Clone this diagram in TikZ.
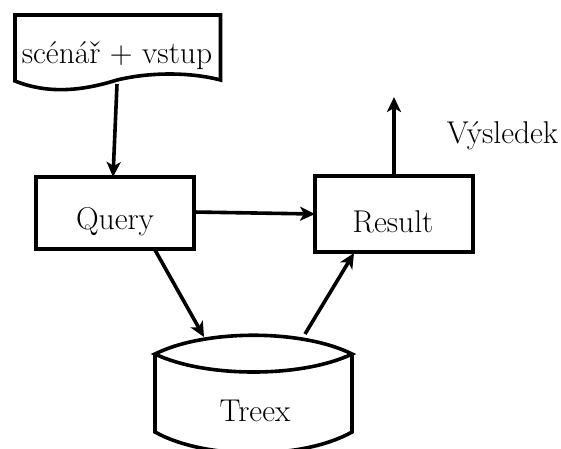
\documentclass[tikz,border=0pt]{standalone}
\usetikzlibrary{arrows.meta}
\begin{document}
\begin{tikzpicture}[x=1pt,y=-1pt,
  line width=3.6pt,
  every node/.style={font=\fontsize{31.5}{36}\selectfont},
  lbl/.style={anchor=base, inner sep=0pt},
  box/.style={draw, rectangle, line width=3.6pt, inner sep=0pt},
  conn/.style={-{Stealth[length=15pt,width=14pt,inset=4pt]}, line width=3.6pt}]
\useasboundingbox (0,0) rectangle (561,448);
% document shape
\draw (15,81) -- (15,15) -- (220.5,15) -- (220.5,80)
  .. controls (190,72) and (150,72) .. (117,80)
  .. controls (85,90) and (50,95) .. (15,81) -- cycle;
\node[lbl] (doc) at (117,63) {scénář + vstup};
% boxes
\node[box, minimum width=158pt, minimum height=72pt] (query) at (115,213) {};
\node[lbl] (querytext) at (115,229) {Query};
\node[box, minimum width=158pt, minimum height=76pt] (result) at (394,214) {};
\node[lbl] (resulttext) at (393,232) {Result};
% cylinder
\draw (155,354) .. controls (205,329) and (302,329) .. (352,354)
  .. controls (302,378) and (205,378) .. (155,354) -- cycle;
\draw (155,354) -- (155,432) .. controls (205,460) and (302,460) .. (352,432) -- (352,354);
\node[lbl] (treex) at (255,421) {Treex};
\node[lbl] (out) at (502.5,143) {Výsledek};
% coordinates
\coordinate (docout) at (117,84);
\coordinate (qin) at (113,177);
\coordinate (qright) at (194,212);
\coordinate (rleft) at (315,214);
\coordinate (qbot) at (155,250);
\coordinate (ttopl) at (204,337);
\coordinate (ttopr) at (305,334);
\coordinate (rbot) at (354,253);
\coordinate (rtop) at (394,176);
\coordinate (up) at (394,97);
\draw[conn] (docout) -- (qin);
\draw[conn] (qright) -- (rleft);
\draw[conn] (qbot) -- (ttopl);
\draw[conn] (ttopr) -- (rbot);
\draw[conn] (rtop) -- (up);
\end{tikzpicture}
\end{document}
